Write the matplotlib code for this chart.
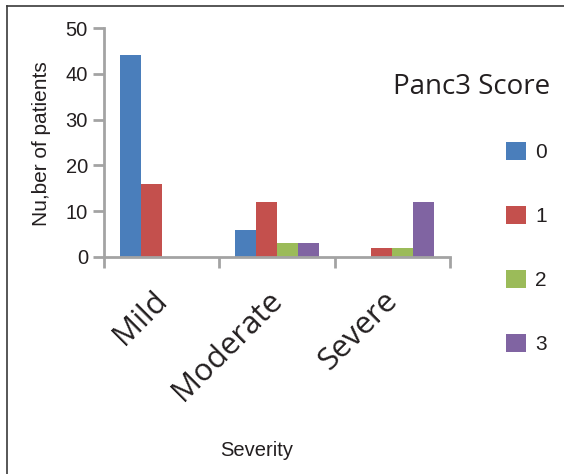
import matplotlib
matplotlib.use("Agg")
import matplotlib.pyplot as plt
import numpy as np
from matplotlib.lines import Line2D
from matplotlib.transforms import ScaledTranslation

categories = ["Mild", "Moderate", "Severe"]
scores = ["0", "1", "2", "3"]
values = {
    "0": [44, 6, 0],
    "1": [16, 12, 2],
    "2": [0, 3, 2],
    "3": [0, 3, 12],
}
colors = ["#4A7EBB", "#C4504D", "#9BBB59", "#8064A2"]
yticks = [0, 10, 20, 30, 40, 50]

W, H = 564, 474
fig = plt.figure(figsize=(W / 100, H / 100), dpi=100)
ax = fig.add_axes([104 / W, 1 - 257 / H, (450 - 104) / W, (257 - 28) / H])

axis_gray = "#A3A3A3"
txt = "#231F20"
sans = ["Liberation Sans", "DejaVu Sans"]
myriad = ["Open Sans", "DejaVu Sans"]

x = np.arange(len(categories)) + 0.5
bw = 0.182
handles = []
for i, s in enumerate(scores):
    b = ax.bar(x + (i - 1.5) * bw, values[s], width=bw, color=colors[i],
               edgecolor="none", label=s)
    handles.append(b)

ax.set_xlim(0, 3)
ax.set_ylim(0, 50)
ax.set_yticks(yticks)
ax.set_yticklabels([str(v) for v in yticks], fontfamily=sans, fontsize=14.5, color=txt)
ax.set_xticks([0, 1, 2, 3])
ax.set_xticklabels([])

# category labels, rotated, under each group
off = ax.get_xaxis_transform() + ScaledTranslation(8.2 / 72, -20.5 / 72, fig.dpi_scale_trans)
for xi, cat in zip(x, categories):
    ax.text(xi, 0, cat, transform=off, rotation=45, ha="right", va="top",
            fontfamily=myriad, fontsize=22.5, color=txt)

for side in ["top", "right"]:
    ax.spines[side].set_visible(False)
for side in ["left", "bottom"]:
    ax.spines[side].set_color(axis_gray)
    ax.spines[side].set_linewidth(2)
ax.tick_params(axis="both", which="major", direction="out", length=8, width=2,
               color=axis_gray, pad=3.6)

fig.text(42 / W, 1 - 144 / H, "Nu,ber of patients", rotation=90, ha="center", va="center",
         fontfamily=sans, fontsize=15, color=txt)
fig.text(257 / W, 1 - 450 / H, "Severity", ha="center", va="center",
         fontfamily=sans, fontsize=14.5, color=txt)
fig.text(472 / W, 1 - 94.5 / H, "Panc3 Score", ha="center", va="baseline",
         fontfamily=myriad, fontsize=20, color=txt)

leg = fig.legend(handles=handles, labels=scores, loc="upper left",
                 bbox_to_anchor=(506 / W, 1 - 142 / H), frameon=False,
                 borderpad=0, borderaxespad=0, handlelength=0.96, handleheight=0.96,
                 handletextpad=0.45, labelspacing=2.1,
                 prop={"family": sans, "size": 15})
for t in leg.get_texts():
    t.set_color(txt)

# figure frame (left and top edges)
fig.add_artist(Line2D([7 / W, 7 / W], [0, 1 - 6 / H], transform=fig.transFigure,
                      color="#3A3A3A", linewidth=1.2))
fig.add_artist(Line2D([7 / W, 1], [1 - 6 / H, 1 - 6 / H], transform=fig.transFigure,
                      color="#3A3A3A", linewidth=1.2))

fig.savefig("out.png", dpi=100)
